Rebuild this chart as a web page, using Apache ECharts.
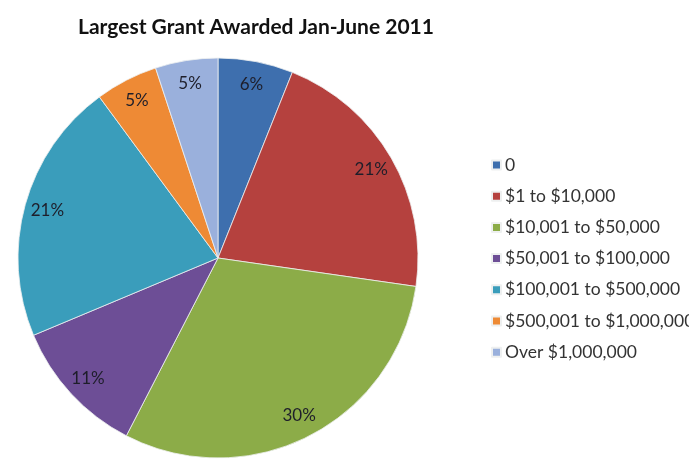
<!DOCTYPE html>
<html>
<head>
<meta charset="utf-8">
<script src="https://cdn.jsdelivr.net/npm/echarts@6/dist/echarts.min.js"></script>
<style>
  html, body { margin: 0; padding: 0; background: #fff; }
  #chart { width: 689px; height: 462px; }
</style>
</head>
<body>
<div id="chart"></div>
<script>
// Grant size bands and the share of largest grants in each (percent)
const categories = [
  '0',
  '$1 to $10,000',
  '$10,001 to $50,000',
  '$50,001 to $100,000',
  '$100,001 to $500,000',
  '$500,001 to $1,000,000',
  'Over $1,000,000'
];
const shares = [6, 21, 30, 11, 21, 5, 5];
const colors = ['#3E6FAE', '#B5413E', '#8CAC48', '#6D4E96', '#3A9DBB', '#EE8A35', '#9AB0DC'];

const data = categories.map((name, i) => ({ name: name, value: shares[i] }));

const chart = echarts.init(document.getElementById('chart'));
chart.setOption({
  animation: false,
  color: colors,
  title: {
    text: 'Largest Grant Awarded Jan-June 2011',
    left: 251,
    top: 12,
    textAlign: 'center',
    textStyle: {
      fontFamily: 'Lato',
      fontWeight: 'bold',
      fontSize: 21,
      color: '#111'
    }
  },
  legend: {
    orient: 'vertical',
    left: 491,
    top: 156,
    padding: 0,
    itemWidth: 9,
    itemHeight: 9,
    itemGap: 13.2,
    icon: 'rect',
    textStyle: {
      fontFamily: 'Lato',
      fontSize: 17.5,
      color: '#333',
      padding: [0, 0, 0, -1]
    },
    data: categories
  },
  series: [
    {
      name: 'shares',
      type: 'pie',
      center: [218, 258],
      radius: [0, 200],
      startAngle: 90,
      clockwise: true,
      data: data,
      label: { show: false },
      labelLine: { show: false },
      itemStyle: { borderColor: '#eef0f0', borderWidth: 0.8 },
      emphasis: { disabled: true }
    },
    {
      // label ring: same slices, transparent, so labels sit near the rim
      name: 'labels',
      type: 'pie',
      center: [218, 258],
      radius: [148, 200],
      startAngle: 90,
      clockwise: true,
      silent: true,
      data: data,
      itemStyle: { color: 'rgba(0,0,0,0)', borderWidth: 0 },
      label: {
        show: true,
        position: 'inner',
        formatter: '{c}%',
        fontFamily: 'Lato',
        fontSize: 17,
        color: '#1e1e2a'
      },
      labelLine: { show: false },
      emphasis: { disabled: true },
      legendHoverLink: false
    }
  ]
});
</script>
</body>
</html>
